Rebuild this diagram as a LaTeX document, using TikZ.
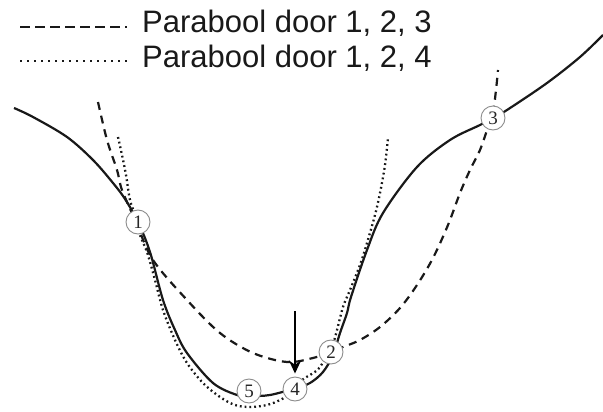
\documentclass[tikz,border=0pt]{standalone}
\usepackage{fontspec}
\setmainfont{Liberation Sans}
\newfontfamily\numfont{Liberation Serif}
\usetikzlibrary{arrows.meta}
\begin{document}
\begin{tikzpicture}[x=1pt,y=-1pt,
  curve/.style={line width=2.2pt,black!90},
  dashcurve/.style={curve,dash pattern=on 8pt off 6pt},
  dotcurve/.style={curve,line width=2.3pt,dash pattern=on 1.8pt off 3pt},
  pt/.style={circle,draw=black!45,line width=0.9pt,fill=white,inner sep=0pt,minimum size=24pt,font=\numfont\fontsize{19}{19}\selectfont,text=black!85},
  legtext/.style={anchor=base west,inner sep=0pt,font=\fontsize{31}{31}\selectfont,text=black!90}]
\useasboundingbox (0,0) rectangle (603,412);
% legend
\coordinate (l1a) at (20,27);
\coordinate (l1b) at (127,27);
\coordinate (l2a) at (20,61);
\coordinate (l2b) at (127,61);
\draw[dashcurve,line width=2.8pt,dash pattern=on 10pt off 5pt] (l1a) -- (l1b);
\draw[dotcurve,line width=2.8pt,dash pattern=on 2.4pt off 4.6pt] (l2a) -- (l2b);
\node[legtext] (t1) at (142,33) {Parabool door 1, 2, 3};
\node[legtext] (t2) at (142,67) {Parabool door 1, 2, 4};
% solid curve
\draw[curve] plot[smooth,tension=0.55] coordinates {(14,108) (33,117) (67,137) (93,160) (113,183) (125,199) (138,222) (150,252) (163,300) (175,330) (187,353) (213,383) (237,395) (250,396) (270,395) (296,388) (310,383) (323,372) (333,355) (340,333) (347,313) (351,297) (367,250) (383,213) (417,167) (450,140) (480,125) (493,118) (507,110) (547,83) (580,57) (603,35)};
% dashed parabola 1,2,3
\draw[dashcurve] plot[smooth,tension=0.55] coordinates {(98,102) (107,140) (117,170) (122,190) (136,222) (153,260) (187,300) (220,333) (253,353) (287,362) (313,358) (331,352) (343,347) (360,340) (380,327) (400,308) (417,285) (433,258) (448,225) (460,193) (470,170) (480,150) (487,130) (493,112) (496,90) (498,70)};
% dotted parabola 1,2,4
\draw[dotcurve] plot[smooth,tension=0.55] coordinates {(118,137) (122,155) (126,175) (130,200) (135,215) (140,235) (147,252) (155,280) (163,310) (175,340) (187,363) (203,383) (220,397) (235,405) (250,407) (267,405) (280,400) (293,392) (302,380) (310,375) (320,367) (333,343) (337,330) (343,307) (350,290) (360,265) (367,243) (375,215) (380,193) (385,165) (388,138)};
% points
\node[pt] (c1) at (138,222) {1};
\node[pt] (c2) at (331,352) {2};
\node[pt] (c3) at (493,118) {3};
\node[pt] (c4) at (295,389) {4};
\node[pt] (c5) at (249,391) {5};
% arrow
\coordinate (arr) at (295,311);
\draw[line width=2.2pt,black,-{Stealth[length=13pt,width=12pt]},shorten >=3pt] (arr) -- (c4.north);
\end{tikzpicture}
\end{document}
